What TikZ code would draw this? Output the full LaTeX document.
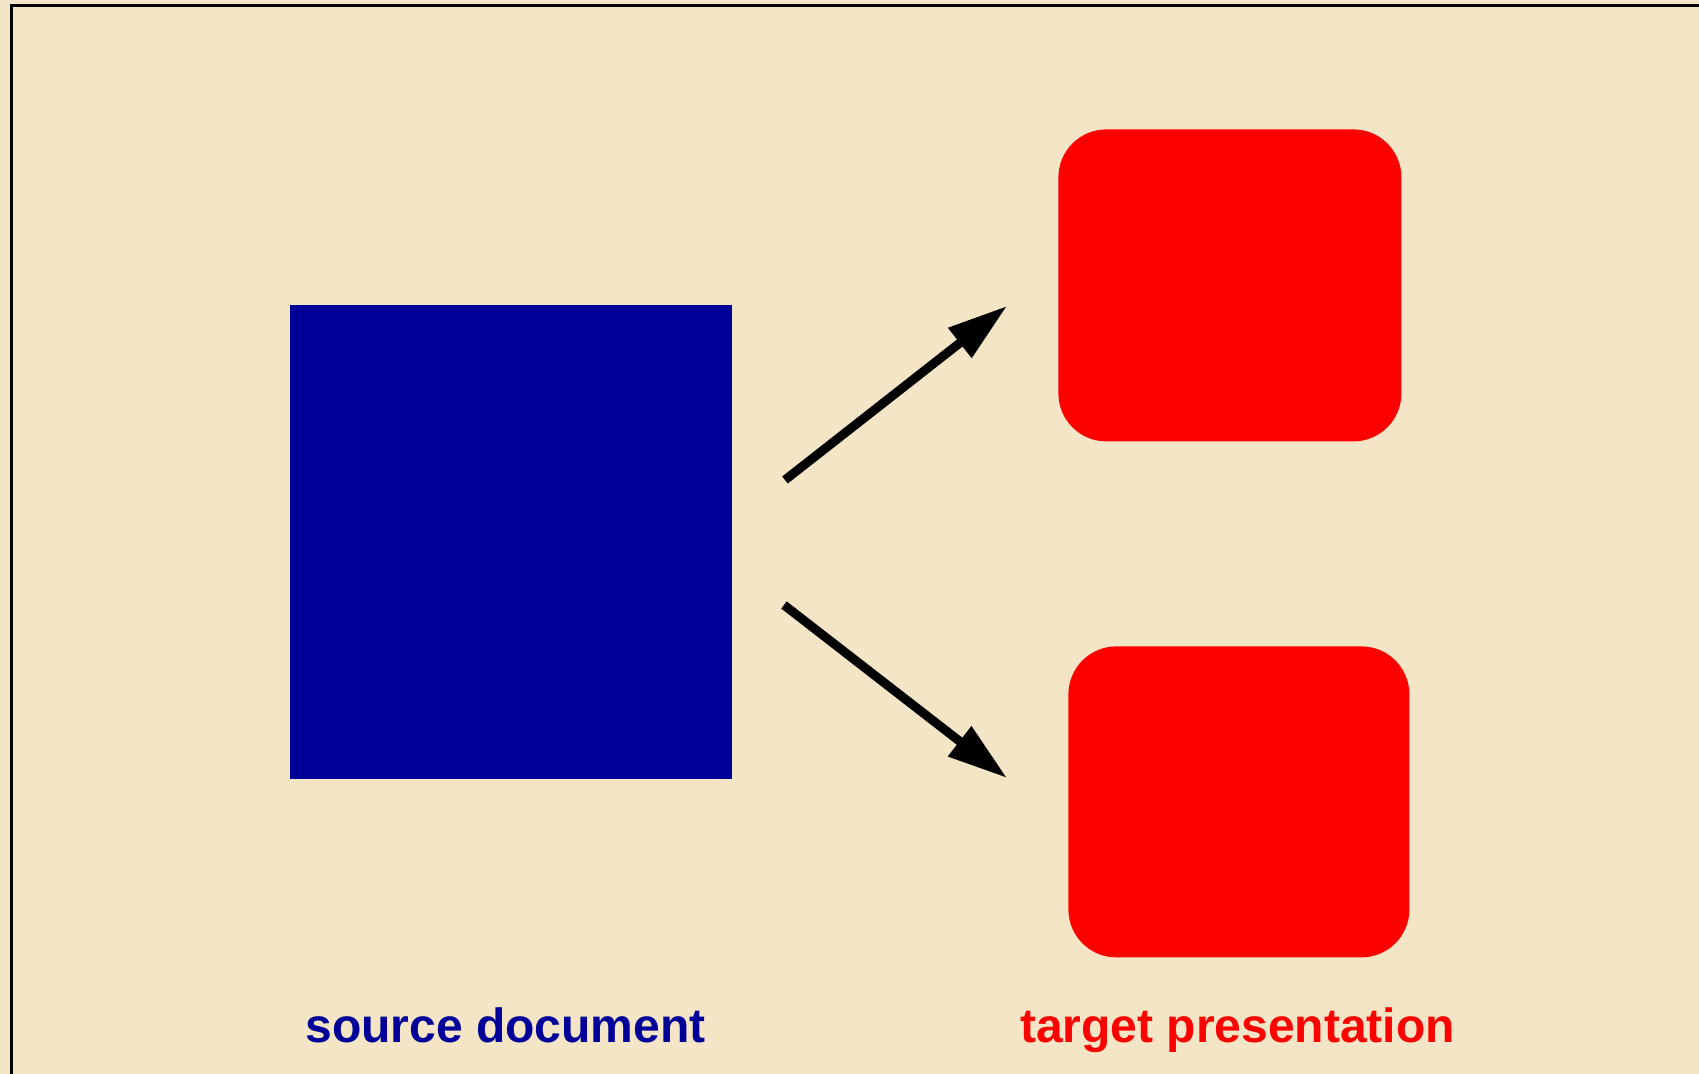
\documentclass[tikz,border=0pt]{standalone}
\usepackage{fontspec}
\setmainfont{Liberation Sans}
\usetikzlibrary{arrows.meta}
\definecolor{bgc}{RGB}{243,229,198}
\definecolor{srcblue}{RGB}{0,0,153}
\definecolor{tgtred}{RGB}{253,0,0}
\tikzset{
  srcbox/.style={fill=srcblue, draw=none, inner sep=0pt, anchor=north west},
  tgtbox/.style={fill=tgtred, draw=none, rounded corners=24pt, inner sep=0pt, anchor=north west},
  flow/.style={line width=4.5pt, line cap=butt, -{Triangle[length=30pt,width=18pt]}},
  lbl/.style={font=\fontsize{24}{28}\selectfont\bfseries, anchor=base, inner sep=0pt}
}
\begin{document}
\begin{tikzpicture}[x=0.5pt,y=-0.5pt]
\useasboundingbox (0,0) rectangle (1699,1074);
\fill[bgc] (0,0) rectangle (1699,1074);
\begin{scope}
\clip (0,0) rectangle (1699,1074);
\draw[line width=1.6pt] (11.5,5.5) rectangle (1720,1100);
\end{scope}
\node[srcbox, minimum width=221pt, minimum height=237pt] (src) at (290,305) {};
\node[tgtbox, minimum width=171.5pt, minimum height=156pt] (t1) at (1058,129) {};
\node[tgtbox, minimum width=170.5pt, minimum height=155.5pt] (t2) at (1068,646) {};
\coordinate (a1s) at (785,480);
\coordinate (a1e) at (1007,306);
\coordinate (a2s) at (784,605);
\coordinate (a2e) at (1007,778);
\draw[flow] (a1s) -- (a1e);
\draw[flow] (a2s) -- (a2e);
\node[lbl, text=srcblue] (lsrc) at (505.5,1042) {source document};
\node[lbl, text=tgtred] (ltgt) at (1237.5,1042) {target presentation};
\end{tikzpicture}
\end{document}
